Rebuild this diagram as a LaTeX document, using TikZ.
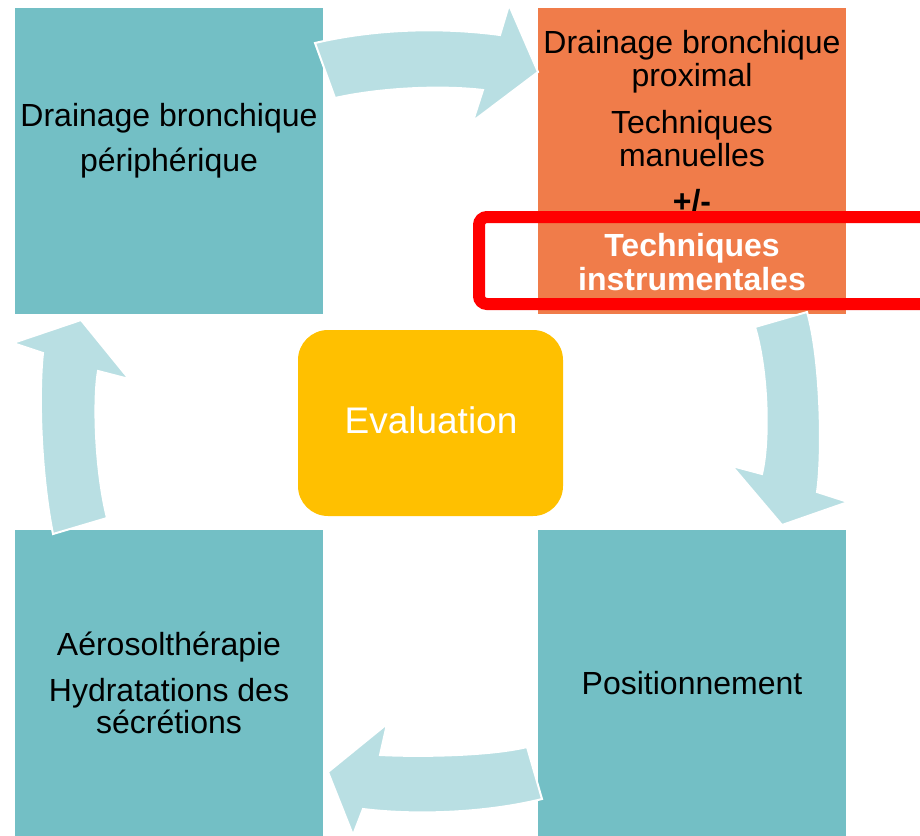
\documentclass[tikz,border=0pt]{standalone}
\usepackage{fontspec}
\setmainfont{Liberation Sans}
\definecolor{teal}{HTML}{73BFC5}
\definecolor{arrowcol}{HTML}{B9DFE3}
\definecolor{orangebox}{HTML}{F07C4A}
\definecolor{evalcol}{HTML}{FFC000}
\definecolor{redframe}{HTML}{FF0000}
\tikzset{
  box/.style={fill=#1, draw=none},
  cyc/.style={fill=arrowcol, draw=white, line width=2pt, line join=miter},
  txt/.style={anchor=base, inner sep=0pt, font=\fontsize{32}{38}\selectfont},
  btxt/.style={anchor=base, inner sep=0pt, font=\fontsize{32}{38}\selectfont\bfseries},
}
\begin{document}
\begin{tikzpicture}[x=1pt,y=-1pt]
\useasboundingbox (0,0) rectangle (920,835);
\begin{scope}
\clip (0,0) rectangle (920,835);
% boxes
\path[box=teal] (15,8) rectangle (323,314);
\path[box=orangebox] (538,8) rectangle (846,314);
\path[box=teal] (15,530) rectangle (323,845);
\path[box=teal] (538,530) rectangle (846,845);
% arrows
\draw[cyc] (315,43) .. controls (375,29) and (440,27) .. (500,35)
  -- (509,5) -- (538,72) -- (473,121) -- (483,90)
  .. controls (440,85) and (380,88) .. (335,98) -- cycle;
\draw[cyc] (807,312) .. controls (820,355) and (823,450) .. (817,492)
  -- (848,502) -- (782,525) -- (732,466) -- (762,474)
  .. controls (770,440) and (768,370) .. (755,327) -- cycle;
\draw[cyc] (542,799) .. controls (490,812) and (420,816) .. (363,809)
  -- (353,835) -- (328,772) -- (387,724) -- (380,755)
  .. controls (420,757) and (490,756) .. (527,747) -- cycle;
\draw[cyc] (53,534) .. controls (42,480) and (38,400) .. (43,353)
  -- (13,343) -- (81,320) -- (129,379) -- (98,371)
  .. controls (93,400) and (95,470) .. (107,518) -- cycle;
% evaluation
\node[fill=evalcol, rounded corners=30pt, minimum width=265pt, minimum height=186pt, inner sep=0pt] (eval) at (430.5,423) {};
\node[anchor=base, inner sep=0pt, text=white, font=\fontsize{37}{44}\selectfont] (evaltxt) at (431,433) {Evaluation};
% texts top-left
\node[txt] (tl1) at (169,126) {Drainage bronchique};
\node[txt] (tl2) at (169,171) {périphérique};
% texts top-right
\node[txt] (tr1) at (692,53) {Drainage bronchique};
\node[txt] (tr2) at (692,86) {proximal};
\node[txt] (tr3) at (692,133) {Techniques};
\node[txt] (tr4) at (692,166) {manuelles};
\node[btxt] (tr5) at (692,212) {+/-};
\node[btxt, text=white] (tr6) at (692,256) {Techniques};
\node[btxt, text=white] (tr7) at (692,290) {instrumentales};
% bottom-left
\node[txt] (bl1) at (169,655) {Aérosolthérapie};
\node[txt] (bl2) at (169,701) {Hydratations des};
\node[txt] (bl3) at (169,733) {sécrétions};
% bottom-right
\node[txt] (br1) at (692,694) {Positionnement};
% red frame
\draw[redframe, line width=12pt, rounded corners=8pt] (479,217) rectangle (950,304);
\end{scope}
\end{tikzpicture}
\end{document}
